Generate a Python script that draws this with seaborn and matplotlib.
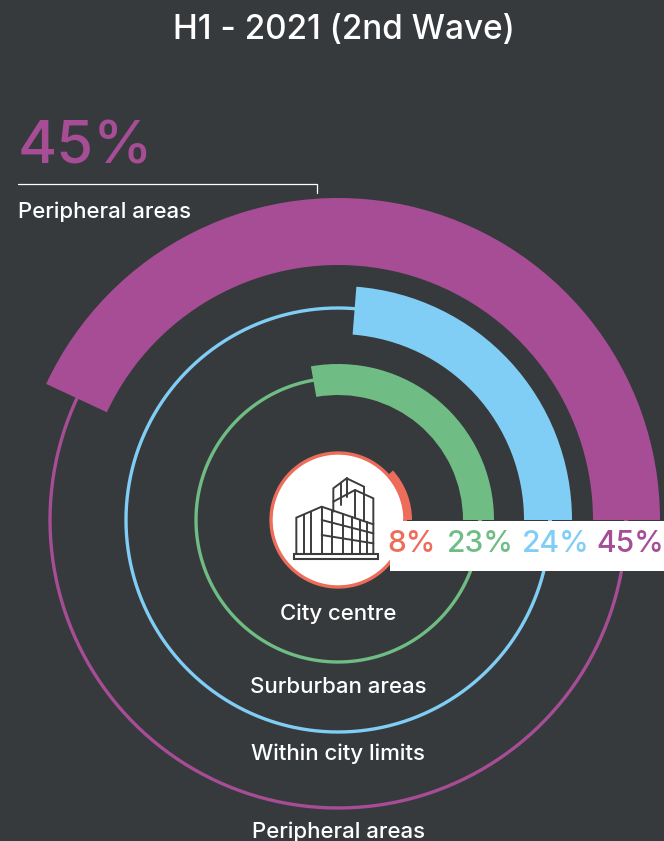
import numpy as np
import matplotlib
matplotlib.use("Agg")
import matplotlib.pyplot as plt
from matplotlib.patches import Rectangle
import seaborn as sns

# chart values
areas = ["City centre", "Surburban areas", "Within city limits", "Peripheral areas"]
shares = ["8%", "23%", "24%", "45%"]
arc_end_deg = [42, 100, 85.5, 155]
arc_inner = [66, 125, 186, 255]
arc_outer = [74, 156, 234, 322]
ring_radius = [67, 142, 212, 288]
colors = ["#ee6c5a", "#6fbd84", "#80cef5", "#a64d96"]
bg = "#373a3c"

sns.set_theme(style="dark", rc={"figure.facecolor": bg, "axes.facecolor": bg})
plt.rcParams["font.family"] = ["Inter", "DejaVu Sans"]

W, H = 664, 841
cx, cy, R = 338, 520, 330
fig = plt.figure(figsize=(W / 100, H / 100), dpi=100)

# polar axes centred on the rings
ax = fig.add_axes([(cx - R) / W, (H - cy - R) / H, 2 * R / W, 2 * R / H], projection="polar")
ax.set_ylim(0, R)
ax.set_axis_off()
ax.bar(0, 66, width=2 * np.pi, bottom=0, color="white", linewidth=0, zorder=1)

theta = np.linspace(0, 2 * np.pi, 361)
for r, c in zip(ring_radius, colors):
    sns.lineplot(x=theta, y=np.full(theta.shape, r), sort=False, estimator=None,
                 color=c, linewidth=2.4, ax=ax, zorder=2)

for end, lo, hi, c in zip(arc_end_deg, arc_inner, arc_outer, colors):
    w = np.deg2rad(end)
    ax.bar(w / 2, hi - lo, width=w, bottom=lo, color=c, linewidth=0, zorder=3)
ax.set_ylim(0, R)
ax.set_axis_off()

# overlay in pixels for the text, the white strip and the icon
top = fig.add_axes([0, 0, 1, 1])
top.set_xlim(0, W)
top.set_ylim(H, 0)
top.set_axis_off()
top.patch.set_alpha(0)

top.add_patch(Rectangle((390, 521), 274, 50, color="white", linewidth=0))
for x, s, c in zip([412, 480, 556, 630], shares, colors):
    top.text(x, 544, s, color=c, fontsize=21.5, fontweight="medium", ha="center", va="center")

top.text(344, 30, "H1 - 2021 (2nd Wave)", color="white", fontsize=24, fontweight="medium",
         ha="center", va="center")
top.text(18, 163, shares[3], color=colors[3], fontsize=43, fontweight="medium", ha="left", va="baseline")
top.plot([18, 317, 317], [183.5, 183.5, 193], color="white", linewidth=0.9, solid_joinstyle="miter")
top.text(18, 212, areas[3], color="white", fontsize=16, fontweight="medium", ha="left", va="center")

for y, name in zip([614, 687, 754, 832], areas):
    top.text(338, y, name, color="white", fontsize=16, fontweight="medium", ha="center", va="center")

# building icon, outlined in crop coordinates
icon_lines = [
    [(52, 265), (52, 158), (128, 125), (283, 178), (283, 265)],
    [(75, 150), (75, 265)], [(97, 140), (97, 265)], [(128, 125), (128, 265)],
    [(160, 136), (160, 265)], [(192, 147), (192, 265)], [(218, 156), (218, 265)],
    [(243, 165), (243, 265)], [(263, 171), (263, 265)],
    [(128, 165), (283, 205)], [(128, 210), (283, 235)],
    [(163, 140), (163, 70), (203, 40), (255, 65), (255, 85)],
    [(163, 110), (228, 75), (283, 100), (283, 178)],
    [(185, 55), (185, 120)], [(203, 40), (203, 97)],
    [(228, 75), (228, 158)], [(255, 85), (255, 168)],
]
for line in icon_lines:
    xs = [279 + p[0] / 3 for p in line]
    ys = [465 + p[1] / 3 for p in line]
    top.plot(xs, ys, color="#3c3c3c", linewidth=1.4, solid_joinstyle="miter")
top.add_patch(Rectangle((293.5, 553.5), 84, 5.5, facecolor="white", edgecolor="#3c3c3c", linewidth=1.5))

fig.savefig("out.png", dpi=100, facecolor=bg)
